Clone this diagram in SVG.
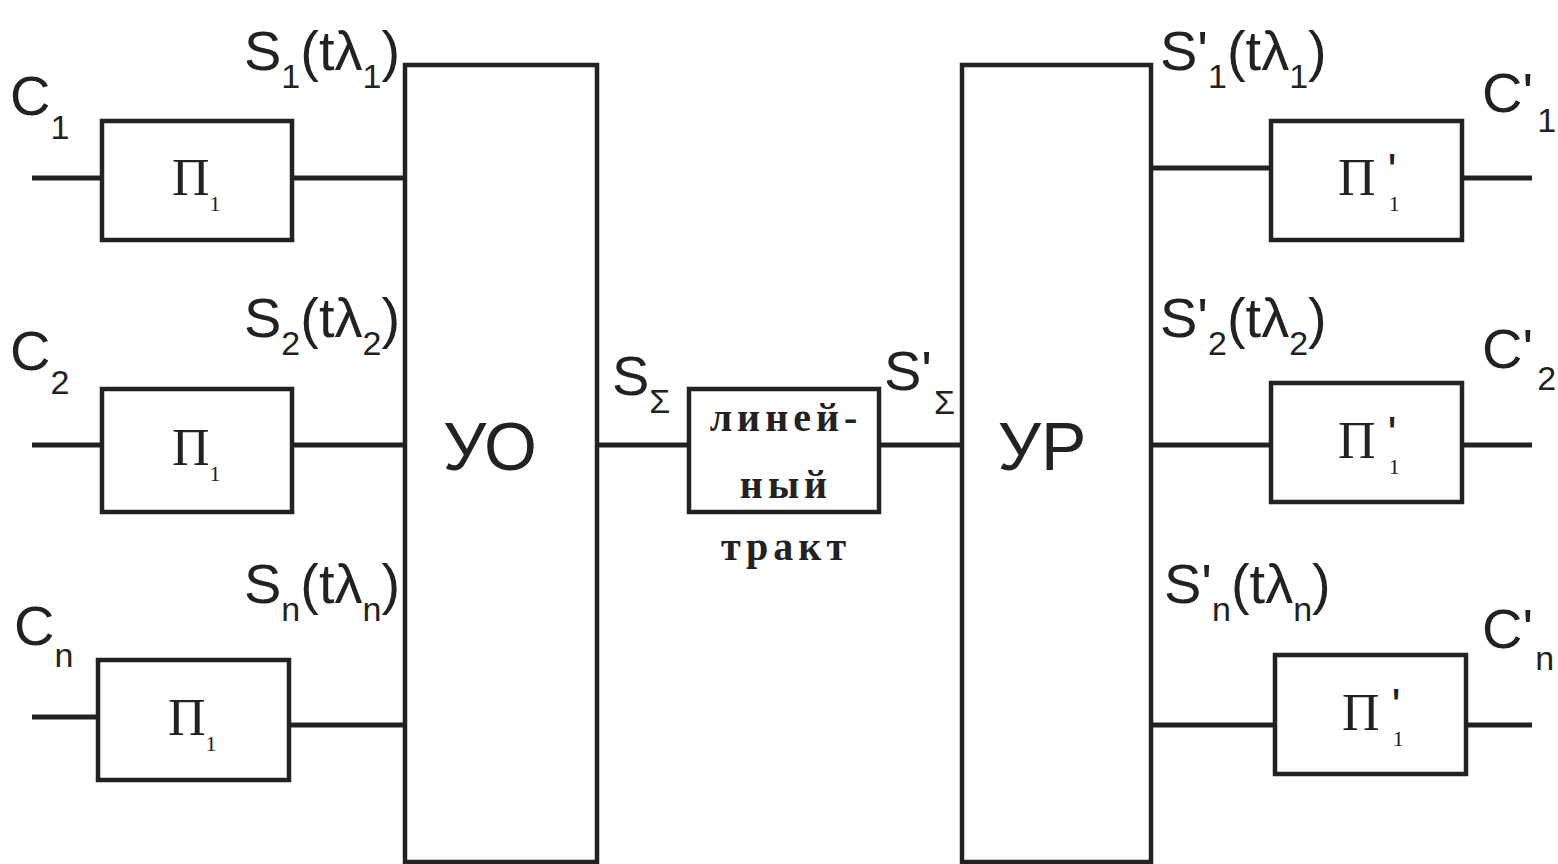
<svg xmlns="http://www.w3.org/2000/svg" width="1558" height="864" viewBox="0 0 1558 864">
<style>
.box{fill:#fff;stroke:#222;stroke-width:4.5}
.ln{stroke:#222;stroke-width:5;fill:none}
.lbl{font-family:"Liberation Sans","DejaVu Sans",sans-serif;font-size:56px;fill:#222}
.sub{font-size:34px}
.pi{font-family:"Liberation Serif","DejaVu Serif",serif;font-size:52px;fill:#222}
.pisub{font-size:22px}
.prime{font-family:"Liberation Sans","DejaVu Sans",sans-serif;font-size:48px}
.big{font-family:"Liberation Sans","DejaVu Sans",sans-serif;font-size:68px;fill:#222}
.mono{font-family:"Liberation Serif","DejaVu Serif",serif;font-weight:bold;font-size:40px;letter-spacing:5px;fill:#222}
</style>
<rect width="1558" height="864" fill="#fff"/>
<g id="connectors">
<line class="ln" x1="32" y1="178" x2="102" y2="178"/>
<line class="ln" x1="292" y1="178" x2="405" y2="178"/>
<line class="ln" x1="32" y1="445" x2="102" y2="445"/>
<line class="ln" x1="292" y1="445" x2="405" y2="445"/>
<line class="ln" x1="32" y1="717" x2="98" y2="717"/>
<line class="ln" x1="289" y1="725" x2="405" y2="725"/>
<line class="ln" x1="597" y1="445" x2="689" y2="445"/>
<line class="ln" x1="879" y1="445" x2="962" y2="445"/>
<line class="ln" x1="1151" y1="168" x2="1271" y2="168"/>
<line class="ln" x1="1462" y1="178" x2="1532" y2="178"/>
<line class="ln" x1="1151" y1="445" x2="1271" y2="445"/>
<line class="ln" x1="1462" y1="445" x2="1532" y2="445"/>
<line class="ln" x1="1151" y1="725" x2="1275" y2="725"/>
<line class="ln" x1="1466" y1="725" x2="1532" y2="725"/>
</g>
<g id="p1">
<rect class="box" x="102" y="121" width="190" height="119"/>
<text class="pi" x="172" y="195">П<tspan class="pisub" dy="16">1</tspan></text>
</g>
<g id="p2">
<rect class="box" x="102" y="389" width="190" height="123"/>
<text class="pi" x="172" y="465">П<tspan class="pisub" dy="16">1</tspan></text>
</g>
<g id="pn">
<rect class="box" x="98" y="660" width="191" height="120"/>
<text class="pi" x="168" y="735">П<tspan class="pisub" dy="16">1</tspan></text>
</g>
<g id="uo">
<rect class="box" x="405" y="65" width="192" height="797"/>
<text class="big" x="490" y="470" text-anchor="middle">УО</text>
</g>
<g id="line">
<rect class="box" x="689" y="389" width="190" height="123"/>
<text class="mono" x="786" y="431" text-anchor="middle">линей-</text>
<text class="mono" x="786" y="498" text-anchor="middle">ный</text>
</g>
<text class="mono" x="786" y="560" text-anchor="middle">тракт</text>
<g id="ur">
<rect class="box" x="962" y="65" width="189" height="797"/>
<text class="big" x="1042" y="470" text-anchor="middle">УР</text>
</g>
<g id="q1">
<rect class="box" x="1271" y="121" width="191" height="119"/>
<text class="pi" x="1338" y="195">П<tspan class="prime" dx="12" dy="-8">'</tspan><tspan class="pisub" dx="-8" dy="24">1</tspan></text>
</g>
<g id="q2">
<rect class="box" x="1271" y="383" width="191" height="119"/>
<text class="pi" x="1338" y="458">П<tspan class="prime" dx="12" dy="-8">'</tspan><tspan class="pisub" dx="-8" dy="24">1</tspan></text>
</g>
<g id="qn">
<rect class="box" x="1275" y="655" width="191" height="119"/>
<text class="pi" x="1342" y="730">П<tspan class="prime" dx="12" dy="-8">'</tspan><tspan class="pisub" dx="-8" dy="24">1</tspan></text>
</g>
<g id="labels">
<text class="lbl" x="10" y="115">C<tspan class="sub" dy="24">1</tspan></text>
<text class="lbl" x="10" y="370">C<tspan class="sub" dy="24">2</tspan></text>
<text class="lbl" x="14" y="645">C<tspan class="sub" dy="22">n</tspan></text>
<text class="lbl" x="244" y="70">S<tspan class="sub" dy="18">1</tspan><tspan dy="-18">(tλ</tspan><tspan class="sub" dy="18">1</tspan><tspan dy="-18">)</tspan></text>
<text class="lbl" x="244" y="337">S<tspan class="sub" dy="18">2</tspan><tspan dy="-18">(tλ</tspan><tspan class="sub" dy="18">2</tspan><tspan dy="-18">)</tspan></text>
<text class="lbl" x="244" y="603">S<tspan class="sub" dy="18">n</tspan><tspan dy="-18">(tλ</tspan><tspan class="sub" dy="18">n</tspan><tspan dy="-18">)</tspan></text>
<text class="lbl" x="612" y="395">S<tspan class="sub" dy="18">Σ</tspan></text>
<text class="lbl" x="884" y="390">S'<tspan class="sub" dx="2" dy="24">Σ</tspan></text>
<text class="lbl" x="1160" y="70">S'<tspan class="sub" dy="18">1</tspan><tspan dy="-18">(tλ</tspan><tspan class="sub" dy="18">1</tspan><tspan dy="-18">)</tspan></text>
<text class="lbl" x="1160" y="337">S'<tspan class="sub" dy="18">2</tspan><tspan dy="-18">(tλ</tspan><tspan class="sub" dy="18">2</tspan><tspan dy="-18">)</tspan></text>
<text class="lbl" x="1164" y="603">S'<tspan class="sub" dy="18">n</tspan><tspan dy="-18">(tλ</tspan><tspan class="sub" dy="18">n</tspan><tspan dy="-18">)</tspan></text>
<text class="lbl" x="1482" y="112">C'<tspan class="sub" dx="4" dy="20">1</tspan></text>
<text class="lbl" x="1482" y="368">C'<tspan class="sub" dx="4" dy="22">2</tspan></text>
<text class="lbl" x="1482" y="648">C'<tspan class="sub" dx="2" dy="22">n</tspan></text>
</g>
</svg>
